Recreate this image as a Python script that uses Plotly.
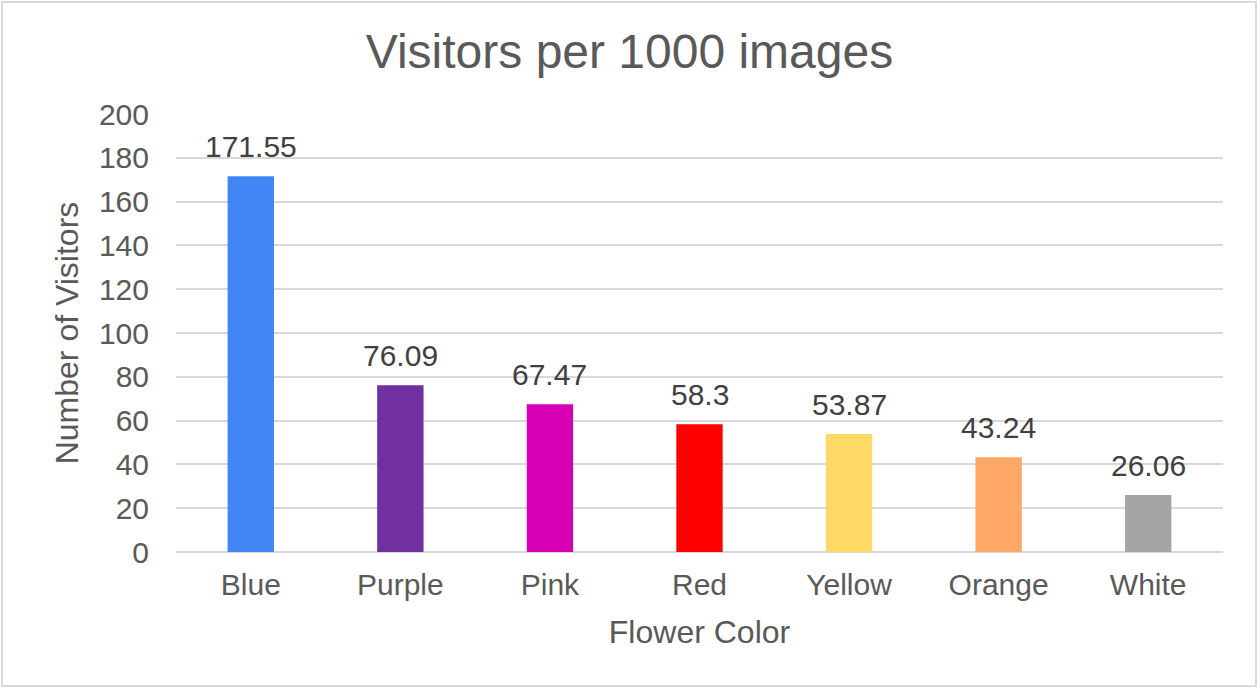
import plotly.graph_objects as go

categories = ["Blue", "Purple", "Pink", "Red", "Yellow", "Orange", "White"]
visitors = [171.55, 76.09, 67.47, 58.3, 53.87, 43.24, 26.06]
bar_colors = ["#4285F4", "#7030A0", "#D800B4", "#FF0000", "#FFD966", "#FFA866", "#A5A5A5"]
y_ticks = [0, 20, 40, 60, 80, 100, 120, 140, 160, 180, 200]

W, H = 1259, 689
L, R, T, B = 176, 36, 114, 137
pw, ph = W - L - R, H - T - B
FONT = "Liberation Sans, Arial"

fig = go.Figure(go.Bar(
    x=categories, y=visitors,
    marker=dict(color=bar_colors, line=dict(width=0)),
    hoverinfo="x+y",
))

annotations = [
    dict(x=c, y=v, xref="x", yref="y", text=f"{v:g}", showarrow=False,
         yanchor="bottom", yshift=11,
         font=dict(size=30, color="#404040", family=FONT))
    for c, v in zip(categories, visitors)
]

fig.update_layout(
    width=W, height=H,
    margin=dict(l=L, r=R, t=T, b=B),
    paper_bgcolor="white", plot_bgcolor="white",
    font=dict(family=FONT, color="#595959"),
    title=dict(text="Visitors per 1000 images", x=0.5, xanchor="center",
               y=1 - 51 / H, yanchor="middle",
               font=dict(size=48, color="#595959", family=FONT)),
    bargap=0.69,
    showlegend=False,
    annotations=annotations,
    xaxis=dict(showgrid=False, showline=False, ticks="", ticklabelstandoff=12,
               tickfont=dict(size=30, color="#595959"),
               title=dict(text="Flower Color", font=dict(size=32, color="#595959"), standoff=20)),
    yaxis=dict(range=[0, 200], tickvals=y_ticks, showgrid=True, gridcolor="#D9D9D9",
               gridwidth=1.5, zeroline=True, zerolinecolor="#D9D9D9", zerolinewidth=1.5,
               showline=False, ticks="", ticklabelstandoff=26,
               tickfont=dict(size=30, color="#595959"),
               title=dict(text="Number of Visitors", font=dict(size=32, color="#595959"), standoff=10)),
    shapes=[dict(type="rect", xref="paper", yref="paper",
                 x0=(2 - L) / pw, x1=(W - 3 - L) / pw,
                 y0=1 - (2 - T) / ph, y1=1 - (H - 3 - T) / ph,
                 line=dict(color="#D9D9D9", width=2), fillcolor="rgba(0,0,0,0)", layer="below")],
)

fig.write_html("out.html", config={"displayModeBar": False})

with open("out.html", "r", encoding="utf-8") as f:
    html = f.read()
html = html.replace("<head>", "<head><style>html,body{margin:0;padding:0;overflow:hidden;}</style>", 1)
with open("out.html", "w", encoding="utf-8") as f:
    f.write(html)
